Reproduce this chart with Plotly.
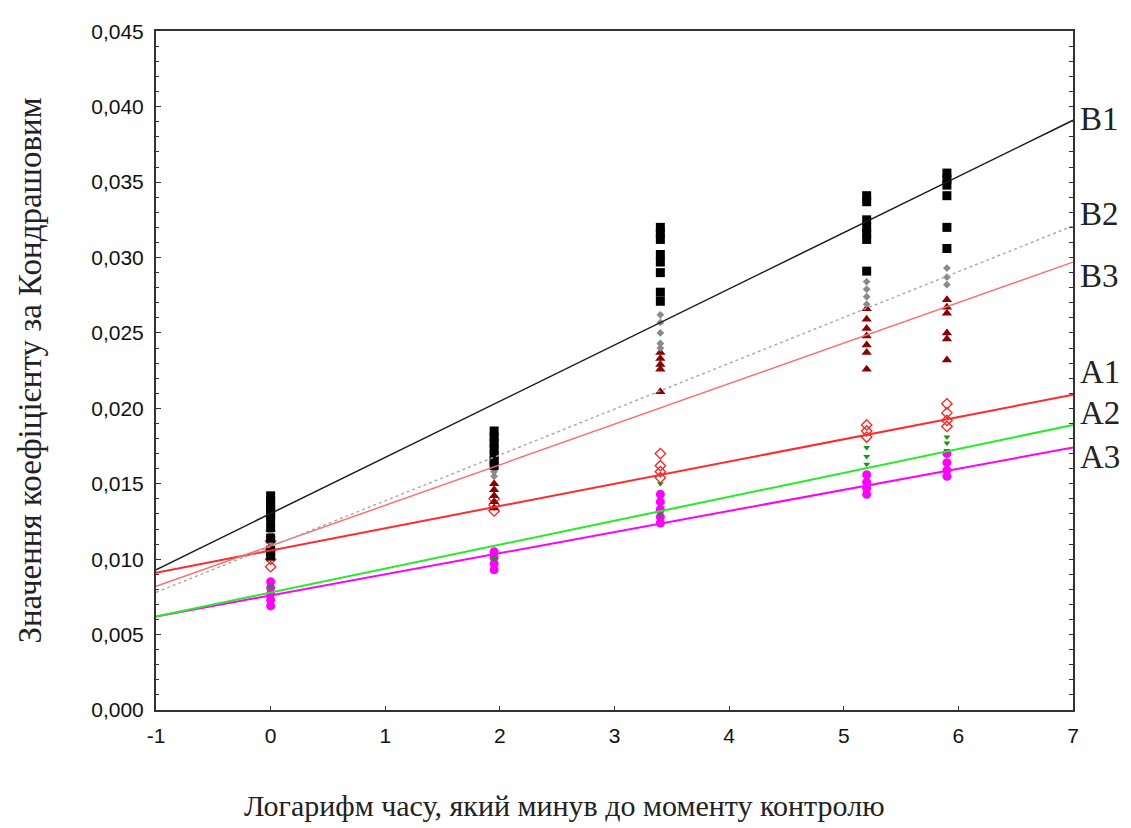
import plotly.graph_objects as go

# ---- data ----
series_names = ["B1", "B2", "B3", "A1", "A2", "A3"]

# x positions (log time) of measurement groups
x_groups = [0.0, 1.95, 3.4, 5.2, 5.9]

B1_vals = [
    [0.0142, 0.0139, 0.0136, 0.0133, 0.0130, 0.0127, 0.0121, 0.0114, 0.0106, 0.0102],
    [0.0185, 0.0181, 0.0177, 0.0173, 0.0169, 0.0165, 0.0162],
    [0.0320, 0.0316, 0.0312, 0.0302, 0.0297, 0.0290, 0.0277, 0.0271],
    [0.0341, 0.0337, 0.0325, 0.0320, 0.0316, 0.0312, 0.0291],
    [0.0356, 0.0352, 0.0348, 0.0341, 0.0320, 0.0306],
]
B2_vals = [
    [0.0118, 0.0112, 0.0108],
    [0.0158, 0.0155],
    [0.0262, 0.0257, 0.0250, 0.0243, 0.0240],
    [0.0284, 0.0279, 0.0274, 0.0269],
    [0.0293, 0.0287, 0.0282],
]
B3_vals = [
    [0.0120, 0.0116, 0.0112, 0.0108, 0.0104],
    [0.0150, 0.0146, 0.0142, 0.0138, 0.0134],
    [0.0237, 0.0233, 0.0229, 0.0226, 0.0211],
    [0.0266, 0.0259, 0.0253, 0.0248, 0.0242, 0.0237, 0.0226],
    [0.0272, 0.0267, 0.0263, 0.0250, 0.0246, 0.0232],
]
A1_vals = [
    [0.0112, 0.0106, 0.0100, 0.0095],
    [0.0140, 0.0136, 0.0132],
    [0.0170, 0.0162, 0.0158, 0.0154],
    [0.0189, 0.0185, 0.0181],
    [0.0203, 0.0197, 0.0192, 0.0188],
]
A2_vals = [
    [0.0082, 0.0078],
    [0.0103, 0.0100],
    [0.0150, 0.0130],
    [0.0174, 0.0168, 0.0163],
    [0.0181, 0.0177, 0.0172],
]
A3_vals = [
    [0.0085, 0.0081, 0.0077, 0.0073, 0.0069],
    [0.0105, 0.0101, 0.0097, 0.0093],
    [0.0143, 0.0138, 0.0133, 0.0128, 0.0124],
    [0.0156, 0.0151, 0.0147, 0.0143],
    [0.0170, 0.0164, 0.0159, 0.0155],
]

# fitted lines: values at x = -1 and x = 7
line_x = [-1, 7]
B1_line = [0.0093, 0.0391]
B2_line = [0.0078, 0.0321]
B3_line = [0.0082, 0.0297]
A1_line = [0.0091, 0.0209]
A2_line = [0.0062, 0.0189]
A3_line = [0.0062, 0.0174]

# right-side label heights
label_y = [0.0392, 0.0329, 0.0288, 0.0224, 0.0197, 0.0168]

x_ticks = [-1, 0, 1, 2, 3, 4, 5, 6, 7]
y_ticks = [0.000, 0.005, 0.010, 0.015, 0.020, 0.025, 0.030, 0.035, 0.040, 0.045]
y_ticktext = ["0,000", "0,005", "0,010", "0,015", "0,020", "0,025", "0,030", "0,035", "0,040", "0,045"]

x_title = "Логарифм часу, який минув до моменту контролю"
y_title = "Значення коефіцієнту за Кондрашовим"

# ---- styles ----
styles = {
    "B1": dict(line=dict(color="#1a1a1a", width=1.5),
               marker=dict(symbol="square", color="black", size=9)),
    "B2": dict(line=dict(color="#a8a8a8", width=1.4, dash="dot"),
               marker=dict(symbol="diamond", color="#8a8a8a", size=6)),
    "B3": dict(line=dict(color="#ff6a6a", width=1.4),
               marker=dict(symbol="triangle-up", color="#8b0000", size=9)),
    "A1": dict(line=dict(color="#ff2a2a", width=2),
               marker=dict(symbol="diamond-open", color="#ff2020", size=8, line=dict(width=1.3))),
    "A2": dict(line=dict(color="#22ee22", width=2),
               marker=dict(symbol="triangle-down", color="#119911", size=6)),
    "A3": dict(line=dict(color="#ff00ff", width=2),
               marker=dict(symbol="circle", color="#ff00ff", size=9)),
}

point_sets = {"B1": B1_vals, "B2": B2_vals, "B3": B3_vals,
              "A1": A1_vals, "A2": A2_vals, "A3": A3_vals}
line_sets = {"B1": B1_line, "B2": B2_line, "B3": B3_line,
             "A1": A1_line, "A2": A2_line, "A3": A3_line}

fig = go.Figure()

draw_order = ["A3", "A2", "A1", "B3", "B2", "B1"]
for name in draw_order:
    xs, ys = [], []
    for gx, vals in zip(x_groups, point_sets[name]):
        xs += [gx] * len(vals)
        ys += vals
    fig.add_trace(go.Scatter(x=xs, y=ys, mode="markers", name=name,
                             marker=styles[name]["marker"], showlegend=False))
for name in draw_order:
    fig.add_trace(go.Scatter(x=line_x, y=line_sets[name], mode="lines",
                             line=styles[name]["line"], showlegend=False))

# invisible trace on the right axis for the right frame with ticks
fig.add_trace(go.Scatter(x=[None], y=[None], yaxis="y2", showlegend=False))

for name, ly in zip(series_names, label_y):
    fig.add_annotation(x=1.0, xref="paper", y=ly, yref="y", text=name,
                       xanchor="left", yanchor="middle", xshift=5, showarrow=False,
                       font=dict(family="Liberation Serif", size=33, color="#222"))

# x-axis title centred on the whole figure
fig.add_annotation(x=0.5, xref="paper", y=0, yref="paper", text=x_title,
                   xanchor="center", yanchor="middle", xshift=-50, yshift=-95,
                   showarrow=False,
                   font=dict(family="Liberation Serif", size=30, color="#222"))

fig.update_layout(
    width=1131, height=828,
    margin=dict(l=148, r=66, t=13, b=126),
    plot_bgcolor="white", paper_bgcolor="white",
    font=dict(family="Liberation Sans", size=21, color="#111"),
    xaxis=dict(range=[-1, 7], tickvals=x_ticks, ticktext=[str(v) for v in x_ticks],
               showgrid=False, zeroline=False, showline=True, linecolor="#333", linewidth=2,
               mirror=True,
               ticks="inside", ticklen=4, tickcolor="#333", ticklabelstandoff=6),
    yaxis=dict(range=[0, 0.04502], tickvals=y_ticks, ticktext=y_ticktext,
               showgrid=False, zeroline=False, showline=True, linecolor="#333", linewidth=2,
               ticks="inside", ticklen=5, tickcolor="#333", ticklabelstandoff=6,
               minor=dict(dtick=0.001, ticks="inside", ticklen=3, tickcolor="#333"),
               title=dict(text=y_title,
                          font=dict(family="Liberation Serif", size=33, color="#222"),
                          standoff=40)),
    yaxis2=dict(range=[0, 0.04502], overlaying="y", side="right", anchor="x",
                showgrid=False, zeroline=False, showline=True, linecolor="#333", linewidth=2,
                showticklabels=False, ticks="inside", ticklen=4, tickcolor="#333",
                dtick=0.001),
)

fig.write_html("out.html")
